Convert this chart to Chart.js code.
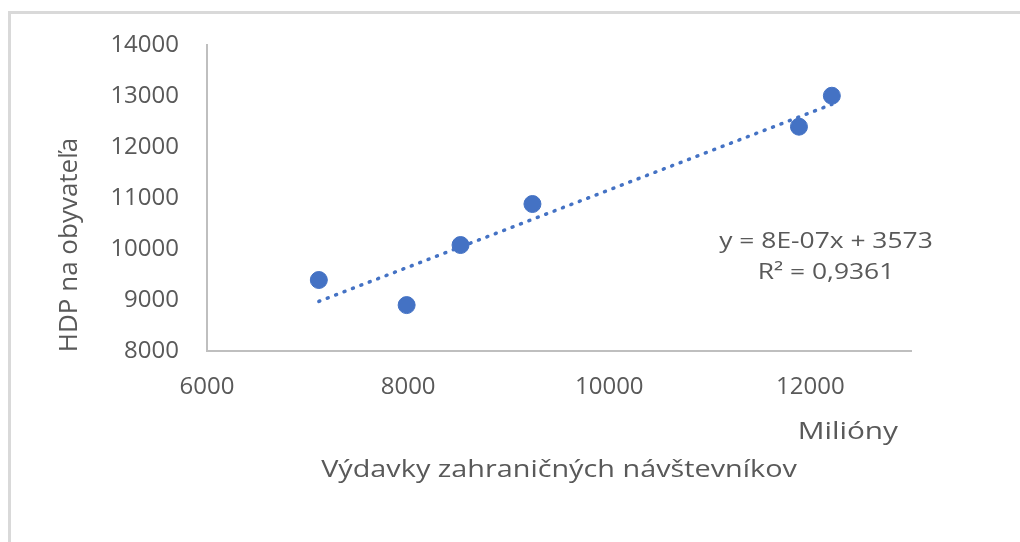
<!DOCTYPE html>
<html>
<head>
<meta charset="utf-8">
<script src="https://cdn.jsdelivr.net/npm/chart.js@4"></script>
<style>
html, body { margin: 0; padding: 0; background: #fff; }
#frame { position: absolute; left: 8px; top: 11px; width: 1100px; height: 600px; border-top: 3px solid #d9d9d9; border-left: 3px solid #d9d9d9; }
#wrap { position: absolute; left: 0; top: 0; width: 1020px; height: 542px; }
</style>
</head>
<body>
<div id="frame"></div>
<div id="wrap"><canvas id="chart"></canvas></div>
<script>
const visitorSpending = [7112, 7985, 8521, 9236, 11886, 12213];
const gdpPerCapita = [9392, 8900, 10078, 10882, 12398, 13005];
const xTicks = [6000, 8000, 10000, 12000];
const yTicks = [8000, 9000, 10000, 11000, 12000, 13000, 14000];
const xTitle = 'Výdavky zahraničných návštevníkov';
const xUnit = 'Milióny';
const yTitle = 'HDP na obyvateľa';
const trendText = ['y = 8E-07x + 3573', 'R² = 0,9361'];

const blue = '#4472C4';
const textColor = '#595959';
const font = '"Open Sans", sans-serif';

// least squares trendline over the data range
function trendline(xs, ys) {
	const n = xs.length;
	const mx = xs.reduce((s, v) => s + v, 0) / n;
	const my = ys.reduce((s, v) => s + v, 0) / n;
	let sxy = 0, sxx = 0;
	for (let i = 0; i < n; i++) {
		sxy += (xs[i] - mx) * (ys[i] - my);
		sxx += (xs[i] - mx) * (xs[i] - mx);
	}
	const k = sxy / sxx;
	const q = my - k * mx;
	const x0 = Math.min(...xs), x1 = Math.max(...xs);
	return [{x: x0, y: k * x0 + q}, {x: x1, y: k * x1 + q}];
}

const points = visitorSpending.map((x, i) => ({x: x, y: gdpPerCapita[i]}));

// text stretched sideways a little, like the original
function wideText(ctx, text, x, y, align, stretch) {
	ctx.save();
	ctx.translate(x, y);
	ctx.scale(stretch, 1);
	ctx.textAlign = align;
	ctx.fillText(text, 0, 0);
	ctx.restore();
}

const labelsPlugin = {
	id: 'labels',
	afterDraw(chart) {
		const {ctx, chartArea: a} = chart;
		ctx.save();
		ctx.fillStyle = textColor;
		ctx.textBaseline = 'middle';
		ctx.font = '24px ' + font;
		wideText(ctx, xTitle, (a.left + a.right) / 2, a.bottom + 119, 'center', 1.2);
		wideText(ctx, xUnit, a.right - 13, a.bottom + 81, 'right', 1.24);
		ctx.font = '22px ' + font;
		wideText(ctx, trendText[0], a.right - 85, a.top + 197, 'center', 1.2);
		wideText(ctx, trendText[1], a.right - 85, a.top + 228, 'center', 1.2);
		ctx.font = '26px ' + font;
		ctx.textAlign = 'center';
		ctx.translate(70, a.top + 200);
		ctx.rotate(-Math.PI / 2);
		ctx.fillText(yTitle, 0, 0);
		ctx.restore();
	}
};

const config = {
	type: 'scatter',
	data: {
		datasets: [
			{
				data: points,
				backgroundColor: blue,
				borderColor: blue,
				pointRadius: 8.5,
				pointHoverRadius: 8.5,
			},
			{
				type: 'line',
				data: trendline(visitorSpending, gdpPerCapita),
				borderColor: blue,
				borderWidth: 3.5,
				borderDash: [1, 8],
				borderCapStyle: 'round',
				pointRadius: 0,
				fill: false,
			}
		]
	},
	options: {
		responsive: true,
		maintainAspectRatio: false,
		animation: false,
		layout: {
			padding: {left: 0, right: 109, top: 45, bottom: 0}
		},
		plugins: {
			legend: {display: false},
			tooltip: {enabled: false},
		},
		scales: {
			x: {
				type: 'linear',
				min: 6000,
				max: 13000,
				afterBuildTicks: (scale) => { scale.ticks = xTicks.map(v => ({value: v})); },
				afterFit: (scale) => { scale.height = 191; },
				grid: {display: false, drawTicks: false},
				border: {display: true, color: '#bfbfbf', width: 2},
				ticks: {
					color: textColor,
					font: {family: font, size: 24},
					padding: 22,
					maxRotation: 0,
					callback: (v) => String(v),
				}
			},
			y: {
				min: 8000,
				max: 14000,
				afterBuildTicks: (scale) => { scale.ticks = yTicks.map(v => ({value: v})); },
				afterFit: (scale) => { scale.width = 207; },
				grid: {display: false, drawTicks: false},
				border: {display: true, color: '#bfbfbf', width: 2},
				ticks: {
					color: textColor,
					font: {family: font, size: 24},
					padding: 28,
					callback: (v) => String(v),
				}
			}
		}
	},
	plugins: [labelsPlugin]
};

document.addEventListener('DOMContentLoaded', () => {
	const ctx = document.getElementById('chart');
	new Chart(ctx, config);
});
</script>
</body>
</html>
